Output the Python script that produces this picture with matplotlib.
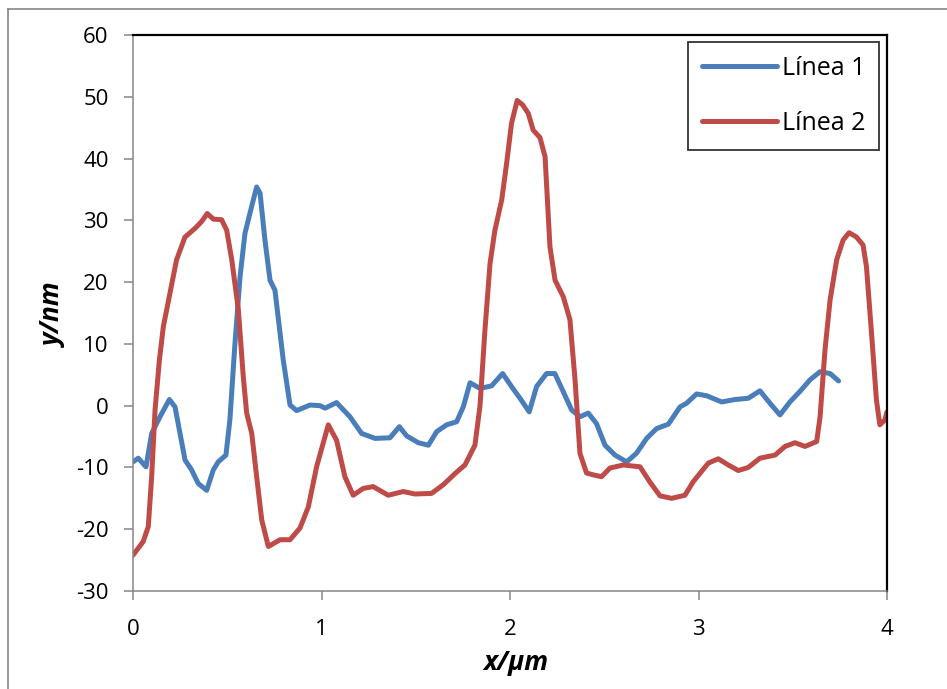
import matplotlib
matplotlib.use("Agg")
import matplotlib.pyplot as plt
from matplotlib.lines import Line2D

plt.rcParams['font.family'] = ['Open Sans', 'DejaVu Sans']
plt.rcParams['axes.unicode_minus'] = False

x1 = [0.000, 0.028, 0.069, 0.099, 0.143, 0.193, 0.223, 0.276, 0.311, 0.346, 0.391, 0.426,
      0.452, 0.493, 0.514, 0.541, 0.568, 0.594, 0.629, 0.656, 0.674, 0.700, 0.727, 0.753,
      0.797, 0.833, 0.868, 0.939, 0.992, 1.019, 1.080, 1.151, 1.213, 1.284, 1.363, 1.413,
      1.452, 1.514, 1.567, 1.611, 1.664, 1.717, 1.752, 1.788, 1.841, 1.902, 1.961, 2.008,
      2.053, 2.102, 2.141, 2.194, 2.238, 2.282, 2.327, 2.371, 2.415, 2.459, 2.504, 2.557,
      2.619, 2.671, 2.725, 2.778, 2.840, 2.902, 2.937, 2.990, 3.044, 3.123, 3.194, 3.264,
      3.326, 3.379, 3.432, 3.485, 3.538, 3.592, 3.645, 3.698, 3.743]
y1 = [-9.1, -8.5, -9.9, -4.5, -1.8, 1.0, -0.2, -8.8, -10.4, -12.6, -13.7, -10.4,
      -9.1, -8.0, -2.3, 10.1, 20.9, 27.9, 32.2, 35.4, 34.4, 26.8, 20.3, 18.7,
      7.4, 0.1, -0.8, 0.1, 0.0, -0.4, 0.5, -1.8, -4.5, -5.3, -5.2, -3.4,
      -4.9, -6.0, -6.4, -4.2, -3.1, -2.6, -0.2, 3.7, 2.8, 3.2, 5.2, 3.1,
      1.2, -1.0, 3.1, 5.2, 5.2, 2.3, -0.7, -1.8, -1.2, -2.9, -6.4, -8.0,
      -9.1, -7.7, -5.3, -3.7, -3.0, -0.2, 0.4, 1.9, 1.6, 0.6, 1.0, 1.2,
      2.4, 0.4, -1.5, 0.6, 2.3, 4.2, 5.5, 5.2, 4.0]

x2 = [0.000, 0.054, 0.081, 0.099, 0.117, 0.140, 0.161, 0.196, 0.231, 0.276, 0.329, 0.364,
      0.394, 0.426, 0.470, 0.497, 0.524, 0.559, 0.585, 0.603, 0.630, 0.656, 0.683, 0.718,
      0.780, 0.833, 0.886, 0.930, 0.974, 1.036, 1.080, 1.124, 1.168, 1.221, 1.274, 1.354,
      1.434, 1.496, 1.584, 1.646, 1.708, 1.761, 1.814, 1.841, 1.867, 1.894, 1.920, 1.956,
      1.982, 2.008, 2.038, 2.067, 2.097, 2.123, 2.159, 2.186, 2.212, 2.239, 2.283, 2.318,
      2.345, 2.371, 2.406, 2.441, 2.486, 2.530, 2.601, 2.690, 2.743, 2.796, 2.858, 2.928,
      2.972, 3.052, 3.105, 3.158, 3.211, 3.264, 3.326, 3.406, 3.459, 3.512, 3.565, 3.627,
      3.645, 3.671, 3.698, 3.733, 3.767, 3.799, 3.838, 3.873, 3.891, 3.918, 3.944, 3.962,
      3.989, 4.000]
y2 = [-24.2, -22.0, -19.6, -11.5, -0.7, 7.4, 12.8, 18.2, 23.6, 27.3, 28.7, 29.8,
      31.1, 30.2, 30.1, 28.4, 23.6, 15.5, 4.7, -1.2, -4.5, -11.5, -18.5, -22.8,
      -21.7, -21.7, -19.8, -16.4, -9.9, -3.1, -5.6, -11.5, -14.5, -13.4, -13.1, -14.5,
      -13.9, -14.3, -14.2, -12.8, -11.0, -9.6, -6.4, 0.0, 12.2, 23.0, 28.4, 33.3,
      39.2, 45.7, 49.4, 48.7, 47.3, 44.6, 43.4, 40.3, 25.7, 20.3, 17.6, 13.9,
      4.2, -7.7, -10.9, -11.2, -11.5, -10.1, -9.6, -9.9, -12.4, -14.6, -15.0, -14.5,
      -12.3, -9.3, -8.6, -9.6, -10.5, -10.0, -8.5, -8.0, -6.6, -6.0, -6.6, -5.8,
      -1.8, 9.0, 17.1, 23.6, 26.8, 28.0, 27.3, 26.0, 22.5, 11.7, 0.9, -3.1,
      -2.3, -1.0]

labels = ["Línea 1", "Línea 2"]
xticks = [0, 1, 2, 3, 4]
yticks = [-30, -20, -10, 0, 10, 20, 30, 40, 50, 60]

W, H = 947, 689
fig = plt.figure(figsize=(W / 100, H / 100), dpi=100)
ax = fig.add_axes([133 / W, 1 - 591 / H, (887 - 133) / W, (591 - 35) / H])

blue = '#4A7EBB'
red = '#BE4B48'
ax.plot(x1, y1, color=blue, lw=3.6, label=labels[0], solid_joinstyle='round', solid_capstyle='round')
ax.plot(x2, y2, color=red, lw=3.6, label=labels[1], solid_joinstyle='round', solid_capstyle='round')

ax.set_xlim(0, 4)
ax.set_ylim(-30, 60)
ax.set_xticks(xticks)
ax.set_yticks(yticks)
ax.tick_params(axis='both', direction='out', length=6.5, width=1.1, color='#868686',
               labelsize=16, labelcolor='black')
ax.tick_params(axis='y', pad=11)
ax.tick_params(axis='x', pad=14)

for s in ['left', 'bottom']:
    ax.spines[s].set_color('#868686')
    ax.spines[s].set_linewidth(1.1)
for s in ['top', 'right']:
    ax.spines[s].set_color('black')
    ax.spines[s].set_linewidth(1.6)

fig.text(516 / W, 1 - 663 / H, 'x/µm', ha='center', va='center', fontsize=19,
         fontweight='bold', fontstyle='italic')
fig.text(53 / W, 1 - 315 / H, 'y/nm', ha='center', va='center', fontsize=19,
         fontweight='bold', fontstyle='italic', rotation=90)

leg = ax.legend(loc='upper right', bbox_to_anchor=((879 - 133) / 754, (591 - 42) / 556),
                fontsize=18, frameon=True, fancybox=False, borderpad=0.56,
                handlelength=3.0, handletextpad=0.2, labelspacing=1.2, borderaxespad=0)
leg.get_frame().set_edgecolor('black')
leg.get_frame().set_linewidth(1.3)

# outer chart frame
fig.add_artist(Line2D([8 / W, 8 / W], [0, 1 - 9 / H], transform=fig.transFigure,
                      color='#888888', lw=1.2))
fig.add_artist(Line2D([8 / W, 1], [1 - 9 / H, 1 - 9 / H], transform=fig.transFigure,
                      color='#888888', lw=1.2))

fig.savefig('out.png', dpi=100)
